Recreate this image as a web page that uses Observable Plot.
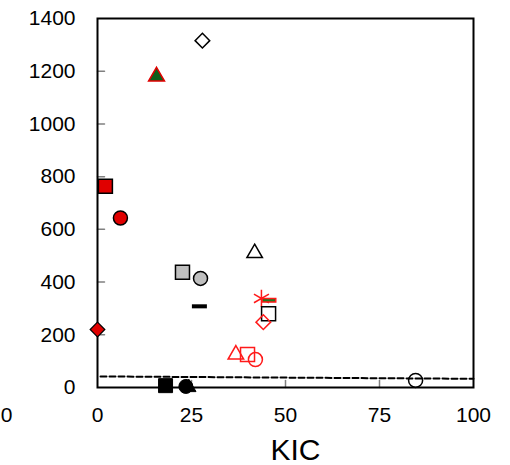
<!DOCTYPE html>
<html>
<head>
<meta charset="utf-8">
<script src="https://cdn.jsdelivr.net/npm/d3@7"></script>
<script src="https://cdn.jsdelivr.net/npm/@observablehq/plot@0.6"></script>
<style>
  html, body { margin: 0; padding: 0; background: white; }
</style>
</head>
<body>
<div id="chart"></div>
<script>
// ---- data ----
const kic = [27.9, 15.7, 2.1, 6.1, 22.6, 27.4, 27.1, 0.0, 41.8, 43.6, 45.6, 45.5, 44.1, 36.8, 39.9, 42.0, 84.6, 18.1, 24.3, 23.5];
const values = [1316, 1180, 764, 643, 437, 414, 308, 220, 510, 338, 331, 280, 248, 125, 125, 106, 27, 7, 0, 4];
const markers = [
  "openDiamond", "greenTriangle", "redSquare", "redCircle", "greySquare", "greyCircle", "blackDash", "redDiamond",
  "openTriangle", "redAsterisk", "greenDash", "openSquare", "openRedDiamond", "openRedTriangle", "openRedSquare",
  "openRedCircle", "openCircle", "blackSquare", "blackTriangle", "blackCircle"
];
const refLineX = [0.8, 100];
const refLineY = [42, 33];
const xTicks = [0, 25, 50, 75, 100];
const yTicks = [0, 200, 400, 600, 800, 1000, 1200, 1400];
const xTitle = "KIC";
const strayLabel = ["0"];

// ---- styles ----
const RED = "#e00000";
const dash = {
  draw(ctx, size) {
    const r = Math.sqrt(size / Math.PI);
    ctx.rect(-r, -r * 0.27, 2 * r, r * 0.54);
  }
};
const styles = {
  openDiamond:     {symbol: "diamond2", fill: "white", stroke: "black", r: 6.6, strokeWidth: 1.5},
  greenTriangle:   {symbol: "triangle2", fill: "#0f5f1a", stroke: RED, r: 7.6, strokeWidth: 1.5},
  redSquare:       {symbol: "square", fill: RED, stroke: "black", r: 7.9, strokeWidth: 1.5},
  redCircle:       {symbol: "circle", fill: RED, stroke: "black", r: 7, strokeWidth: 1.5},
  greySquare:      {symbol: "square", fill: "#bfbfbf", stroke: "black", r: 7.9, strokeWidth: 1.5},
  greyCircle:      {symbol: "circle", fill: "#bfbfbf", stroke: "black", r: 7, strokeWidth: 1.5},
  blackDash:       {symbol: dash, fill: "black", stroke: "none", r: 7.5, strokeWidth: 0},
  redDiamond:      {symbol: "diamond2", fill: RED, stroke: "black", r: 6.6, strokeWidth: 1.2},
  openTriangle:    {symbol: "triangle2", fill: "none", stroke: "black", r: 7.4, strokeWidth: 1.5},
  redAsterisk:     {symbol: "asterisk", fill: "none", stroke: "#ff1a1a", r: 8.2, strokeWidth: 1.5},
  greenDash:       {symbol: dash, fill: "#1e7a1e", stroke: "#ff1a1a", r: 6.8, strokeWidth: 1.5},
  openSquare:      {symbol: "square", fill: "none", stroke: "black", r: 7.9, strokeWidth: 1.5},
  openRedDiamond:  {symbol: "diamond2", fill: "none", stroke: "#ff1a1a", r: 6.6, strokeWidth: 1.5},
  openRedTriangle: {symbol: "triangle2", fill: "none", stroke: "#ff1a1a", r: 7.4, strokeWidth: 1.5},
  openRedSquare:   {symbol: "square", fill: "none", stroke: "#ff1a1a", r: 7.9, strokeWidth: 1.5},
  openRedCircle:   {symbol: "circle", fill: "none", stroke: "#ff1a1a", r: 7, strokeWidth: 1.5},
  openCircle:      {symbol: "circle", fill: "none", stroke: "black", r: 7, strokeWidth: 1.5},
  blackSquare:     {symbol: "square", fill: "black", stroke: "black", r: 7.9, strokeWidth: 1},
  blackTriangle:   {symbol: "triangle2", fill: "black", stroke: "black", r: 6.8, strokeWidth: 1},
  blackCircle:     {symbol: "circle", fill: "black", stroke: "black", r: 7, strokeWidth: 1}
};

const tickLine = {draw(ctx, l) { ctx.moveTo(0, 0); ctx.lineTo(0, -l); }};

const pointMarks = kic.map((x, i) => {
  const s = styles[markers[i]];
  return Plot.dot([i], {
    x: j => kic[j], y: j => values[j],
    symbol: s.symbol, fill: s.fill, stroke: s.stroke, r: s.r, strokeWidth: s.strokeWidth
  });
});

const chart = Plot.plot({
  width: 510,
  height: 465,
  marginLeft: 97,
  marginRight: 37,
  marginTop: 18,
  marginBottom: 78,
  x: {domain: [0, 100]},
  y: {domain: [0, 1400]},
  style: {fontFamily: "'Liberation Sans', Arial, sans-serif", background: "white", overflow: "visible", color: "black"},
  marks: [
    Plot.axisY({ticks: yTicks, tickSize: 0, tickPadding: 22, fontSize: 21, tickFormat: d => String(d), label: null}),
    Plot.axisX({ticks: xTicks, tickSize: 0, tickPadding: 20, fontSize: 21, tickFormat: d => String(d), label: null}),
    Plot.text(strayLabel, {x: -25.7, y: 0, dy: 28, fontSize: 21, lineAnchor: "middle", textAnchor: "start", text: d => d}),
    Plot.text([xTitle], {frameAnchor: "bottom", dx: 10, dy: 63, fontSize: 30, lineAnchor: "middle", text: d => d}),
    Plot.vector(yTicks.filter(d => d > 0 && d < 1400), {x: 0, y: d => d, length: 7, rotate: 90, anchor: "start", shape: tickLine, stroke: "#808080", strokeWidth: 1.5}),
    Plot.vector(xTicks.filter(d => d > 0 && d < 100), {x: d => d, y: 0, length: 7, rotate: 0, anchor: "start", shape: tickLine, stroke: "#808080", strokeWidth: 1.5}),
    Plot.frame({stroke: "black", strokeWidth: 2}),
    Plot.line(refLineX.map((x, i) => i), {x: i => refLineX[i], y: i => refLineY[i], stroke: "black", strokeWidth: 2, strokeDasharray: "6,3"}),
    ...pointMarks
  ]
});
document.getElementById("chart").appendChild(chart);
</script>
</body>
</html>
